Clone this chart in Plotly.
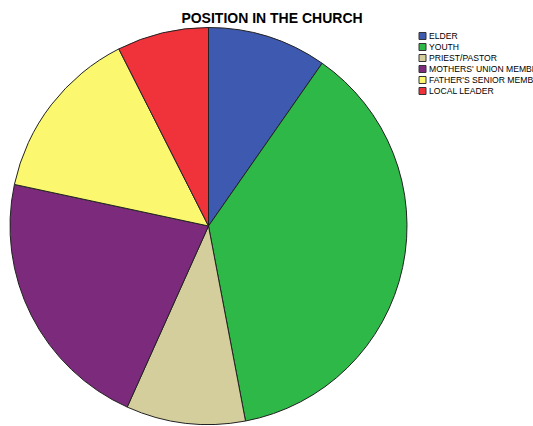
import plotly.graph_objects as go

labels = ["ELDER", "YOUTH", "PRIEST/PASTOR", "MOTHERS' UNION MEMBER", "FATHER'S SENIOR MEMBER", "LOCAL LEADER"]
values = [13, 50, 13, 29, 19, 10]
colors = ["#3E5AB0", "#2EB848", "#D3CE9C", "#7B2A7C", "#FBF86F", "#F0323A"]

W, H = 533, 426
fig = go.Figure(go.Pie(
    labels=labels, values=values, sort=False, direction="clockwise", rotation=0,
    marker=dict(colors=colors, line=dict(color="#222222", width=1)),
    textinfo="none", hoverinfo="label+value",
    domain=dict(x=[10 / W, 407 / W], y=[1 - 425 / H, 1 - 27 / H]),
    showlegend=False,
))

# compact legend (Plotly's built-in legend rows are too tall)
leg_x, leg_y0, row_h, sw = 419, 36, 11, 7
for i, (lab, col) in enumerate(zip(labels, colors)):
    yc = leg_y0 + i * row_h
    fig.add_shape(type="rect", xref="paper", yref="paper",
                  x0=leg_x / W, x1=(leg_x + sw) / W,
                  y0=1 - (yc + sw / 2) / H, y1=1 - (yc - sw / 2) / H,
                  fillcolor=col, line=dict(color="#333333", width=1))
    fig.add_annotation(text=lab, xref="paper", yref="paper",
                       x=(leg_x + sw + 1) / W, y=1 - yc / H,
                       xanchor="left", yanchor="middle", showarrow=False,
                       font=dict(family="Liberation Sans, Arial", size=8.6, color="black"))

fig.update_layout(
    width=W, height=H,
    margin=dict(l=0, r=0, t=0, b=0, autoexpand=False),
    paper_bgcolor="white", plot_bgcolor="white",
    title=dict(text="<b>POSITION IN THE CHURCH</b>", x=272 / W, xanchor="center",
               y=1 - 18 / H, yanchor="middle",
               font=dict(family="Liberation Sans, Arial", size=14, color="black")),
    showlegend=False,
)
fig.write_html("out.html", config={"displayModeBar": False},
               post_script="document.body.style.margin='0';document.body.style.overflow='hidden';")
